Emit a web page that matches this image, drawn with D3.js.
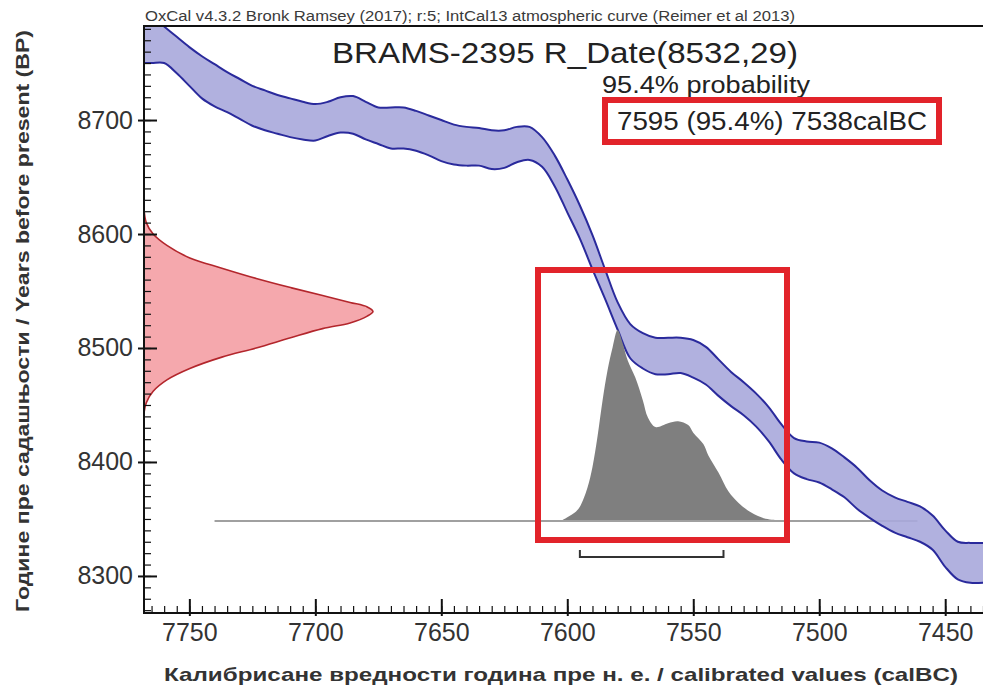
<!DOCTYPE html>
<html>
<head>
<meta charset="utf-8">
<script src="https://cdnjs.cloudflare.com/ajax/libs/d3/7.8.5/d3.min.js"></script>
<style>
  body { margin: 0; background: #fff; }
  text { font-family: "Liberation Sans", Arial, sans-serif; }
</style>
</head>
<body>
<svg width="983" height="692"></svg>
<script>
// calibration curve (IntCal13), upper and lower edge of the band, BP
var curveCal = [7770, 7765, 7760, 7755, 7750, 7745, 7740, 7735, 7730, 7725, 7720, 7715, 7710, 7705, 7700,
    7695, 7690, 7685, 7680, 7675, 7670, 7665, 7660, 7655, 7650, 7645, 7640, 7635, 7630, 7625, 7620,
    7615, 7610, 7605, 7600, 7595, 7590, 7585, 7580, 7575, 7570, 7565, 7560, 7555, 7550, 7545, 7540,
    7535, 7530, 7525, 7520, 7515, 7510, 7505, 7500, 7495, 7490, 7485, 7480, 7475, 7470, 7465, 7460,
    7455, 7450, 7445, 7440, 7435, 7430];
var curveUpper = [8800, 8791, 8782, 8773, 8764, 8756, 8749, 8742, 8736, 8730, 8726, 8722, 8719, 8716, 8714,
    8716, 8720, 8721, 8716, 8711, 8711, 8711, 8708, 8704, 8700, 8696, 8694, 8693, 8691, 8691, 8694,
    8694, 8685, 8669, 8648, 8625, 8599, 8569, 8540, 8521, 8513, 8509, 8509, 8509, 8507, 8501, 8490,
    8479, 8470, 8460, 8448, 8433, 8421, 8418, 8417, 8412, 8404, 8395, 8384, 8375, 8369, 8365, 8361,
    8353, 8340, 8330, 8329, 8329, 8330];
var curveLower = [8750, 8750, 8750, 8741, 8730, 8719, 8712, 8707, 8701, 8695, 8691, 8688, 8685, 8683, 8682,
    8686, 8689, 8688, 8683, 8679, 8675, 8675, 8673, 8669, 8664, 8661, 8660, 8660, 8657, 8658, 8663,
    8665, 8659, 8642, 8619, 8596, 8569, 8543, 8516, 8491, 8482, 8477, 8477, 8478, 8474, 8468, 8458,
    8449, 8441, 8431, 8418, 8402, 8390, 8385, 8382, 8376, 8369, 8359, 8351, 8344, 8338, 8334, 8330,
    8323, 8308, 8297, 8294, 8294, 8294];

// radiocarbon date R_Date(8532,29), relative likelihood
var likeBP = [8622, 8610, 8600, 8590, 8579, 8570, 8561, 8553, 8546, 8540, 8536, 8532,
    8528, 8522, 8517, 8509, 8500, 8492, 8482, 8472, 8462, 8452, 8443];
var likeP = [0, 0.01, 0.04, 0.10, 0.20, 0.34, 0.49, 0.64, 0.78, 0.90, 0.975, 1,
    0.975, 0.90, 0.78, 0.64, 0.49, 0.34, 0.20, 0.10, 0.04, 0.01, 0];

// calibrated distribution, calBC
var distCal = [7602, 7597, 7595, 7592, 7590, 7588, 7586, 7584, 7582, 7580, 7578, 7576, 7573, 7570,
    7568, 7565, 7560, 7556, 7552, 7550, 7546, 7544, 7540, 7536, 7532, 7527, 7522, 7517];
var distP = [0, 0.04, 0.07, 0.17, 0.28, 0.44, 0.63, 0.79, 0.91, 1, 0.93, 0.84, 0.75, 0.63,
    0.54, 0.49, 0.51, 0.52, 0.50, 0.46, 0.40, 0.34, 0.25, 0.15, 0.09, 0.04, 0.01, 0];

var range95 = [7595, 7538];
var calRange = [7740, 7461];
var xTicks = [7750, 7700, 7650, 7600, 7550, 7500, 7450];
var yTicks = [8300, 8400, 8500, 8600, 8700];

var svg = d3.select("svg");

const plotLeft = 144, plotTop = 26, plotBottom = 613, plotRight = 983;
const distBase = 8349;   // BP level of the distribution baseline
const distHeight = 190;  // px
const likeWidth = 229;   // px

var x = d3.scaleLinear().domain([7768, 7435]).range([plotLeft, plotRight]);
var y = d3.scaleLinear().domain([8267.5, 8782.5]).range([plotBottom, plotTop]);
var likeX = d3.scaleLinear().domain([0, 1]).range([plotLeft, plotLeft + likeWidth]);
var distY = d3.scaleLinear().domain([0, 1]).range([y(distBase), y(distBase) - distHeight]);
var smooth = d3.curveCatmullRom.alpha(0.5);

svg.append("rect").attr("width", 983).attr("height", 692).attr("fill", "#fff");

svg.append("clipPath").attr("id", "plot")
    .append("rect")
    .attr("x", plotLeft).attr("y", plotTop)
    .attr("width", plotRight - plotLeft).attr("height", plotBottom - plotTop);

var plot = svg.append("g").attr("clip-path", "url(#plot)");

var curve = curveCal.map(function (c, i) {
    return { cal: c, hi: curveUpper[i], lo: curveLower[i] };
});

// grey baseline of the calibrated distribution (under the band)
plot.append("line")
    .attr("x1", x(calRange[0])).attr("x2", x(calRange[1]))
    .attr("y1", distY(0) + 1).attr("y2", distY(0) + 1)
    .attr("stroke", "#a0a0a0")
    .attr("stroke-width", 2);

// calibration band
plot.append("path")
    .datum(curve)
    .attr("fill", "#a9a9db")
    .attr("fill-opacity", 0.9)
    .attr("d", d3.area()
        .x(function (d) { return x(d.cal); })
        .y0(function (d) { return y(d.lo); })
        .y1(function (d) { return y(d.hi); })
        .curve(smooth));

["hi", "lo"].forEach(function (k) {
    plot.append("path")
        .datum(curve)
        .attr("fill", "none")
        .attr("stroke", "#2a2a9c")
        .attr("stroke-width", 2)
        .attr("d", d3.line()
            .x(function (d) { return x(d.cal); })
            .y(function (d) { return y(d[k]); })
            .curve(smooth));
});

// likelihood of the radiocarbon date
var like = likeBP.map(function (b, i) { return { bp: b, p: likeP[i] }; });
plot.append("path")
    .datum(like)
    .attr("fill", "#f5a8ad")
    .attr("d", d3.area()
        .y(function (d) { return y(d.bp); })
        .x0(plotLeft)
        .x1(function (d) { return likeX(d.p); })
        .curve(smooth));
plot.append("path")
    .datum(like)
    .attr("fill", "none")
    .attr("stroke", "#b3262c")
    .attr("stroke-width", 1.6)
    .attr("d", d3.line()
        .y(function (d) { return y(d.bp); })
        .x(function (d) { return likeX(d.p); })
        .curve(smooth));

// calibrated distribution
var dist = distCal.map(function (c, i) { return { cal: c, p: distP[i] }; });
plot.append("path")
    .datum(dist)
    .attr("fill", "#7f7f7f")
    .attr("d", d3.area()
        .x(function (d) { return x(d.cal); })
        .y0(distY(0))
        .y1(function (d) { return distY(d.p); })
        .curve(smooth));

// 95.4% range bracket
svg.append("path")
    .attr("fill", "none")
    .attr("stroke", "#333")
    .attr("stroke-width", 2)
    .attr("d", "M" + x(range95[0]) + "," + (distY(0) + 30) +
        "V" + (distY(0) + 37) + "H" + x(range95[1]) + "V" + (distY(0) + 30));

// axes
var tickFont = function (g) {
    g.selectAll("text")
        .style("font-family", "Liberation Sans, Arial, sans-serif")
        .style("font-size", "25px")
        .attr("fill", "#333");
    g.select(".domain").remove();
    g.selectAll("line").attr("stroke", "#111").attr("stroke-width", 2);
};

svg.append("g")
    .attr("transform", "translate(" + plotLeft + ",0)")
    .call(d3.axisLeft(y).tickValues(yTicks).tickSize(6).tickPadding(5).tickFormat(d3.format("d")))
    .call(tickFont);
svg.append("g")
    .attr("transform", "translate(" + plotLeft + ",0)")
    .call(d3.axisLeft(y).tickValues(yTicks).tickSize(-13).tickFormat(""))
    .call(tickFont);
svg.append("g")
    .attr("transform", "translate(" + plotLeft + ",0)")
    .call(d3.axisLeft(y).ticks(52).tickSize(-7).tickFormat(""))
    .call(tickFont)
    .selectAll("line").attr("stroke-width", 1.2);

svg.append("g")
    .attr("transform", "translate(0," + plotBottom + ")")
    .call(d3.axisBottom(x).tickValues(xTicks).tickSize(3).tickPadding(7).tickFormat(d3.format("d")))
    .call(tickFont);
svg.append("g")
    .attr("transform", "translate(0," + plotBottom + ")")
    .call(d3.axisBottom(x).tickValues(xTicks).tickSize(-14).tickFormat(""))
    .call(tickFont);
svg.append("g")
    .attr("transform", "translate(0," + plotBottom + ")")
    .call(d3.axisBottom(x).ticks(66).tickSize(-7).tickFormat(""))
    .call(tickFont)
    .selectAll("line").attr("stroke-width", 1.2);

// frame
svg.append("path")
    .attr("fill", "none")
    .attr("stroke", "#111")
    .attr("stroke-width", 2)
    .attr("d", "M" + plotRight + "," + plotTop + "H" + plotLeft + "V" + plotBottom + "H" + plotRight);

// texts
svg.append("text")
    .attr("x", 145).attr("y", 21)
    .attr("font-size", 14)
    .attr("fill", "#3a3a3a")
    .attr("textLength", 650)
    .attr("lengthAdjust", "spacingAndGlyphs")
    .text("OxCal v4.3.2 Bronk Ramsey (2017); r:5; IntCal13 atmospheric curve (Reimer et al 2013)");

svg.append("text")
    .attr("x", 332).attr("y", 63)
    .attr("font-size", 29)
    .attr("fill", "#222")
    .attr("textLength", 466)
    .attr("lengthAdjust", "spacingAndGlyphs")
    .text("BRAMS-2395 R_Date(8532,29)");

svg.append("text")
    .attr("x", 602).attr("y", 93)
    .attr("font-size", 23)
    .attr("fill", "#222")
    .attr("textLength", 208)
    .attr("lengthAdjust", "spacingAndGlyphs")
    .text("95.4% probability");

svg.append("text")
    .attr("x", 617).attr("y", 130)
    .attr("font-size", 26)
    .attr("fill", "#222")
    .attr("textLength", 310)
    .attr("lengthAdjust", "spacingAndGlyphs")
    .text(range95[0] + " (95.4%) " + range95[1] + "calBC");

// red highlight boxes
svg.append("rect")
    .attr("x", 605).attr("y", 100)
    .attr("width", 334).attr("height", 42)
    .attr("fill", "none")
    .attr("stroke", "#e2232a")
    .attr("stroke-width", 6);

svg.append("rect")
    .attr("x", 538).attr("y", 270)
    .attr("width", 249).attr("height", 270)
    .attr("fill", "none")
    .attr("stroke", "#e2232a")
    .attr("stroke-width", 6);

// axis titles
svg.append("text")
    .attr("transform", "translate(29,321) rotate(-90)")
    .attr("text-anchor", "middle")
    .attr("font-size", 18)
    .attr("font-weight", "bold")
    .attr("fill", "#333")
    .attr("textLength", 582)
    .attr("lengthAdjust", "spacingAndGlyphs")
    .text("Године пре садашњости / Years before present (BP)");

svg.append("text")
    .attr("x", 561).attr("y", 681)
    .attr("text-anchor", "middle")
    .attr("font-size", 19)
    .attr("font-weight", "bold")
    .attr("fill", "#333")
    .attr("textLength", 794)
    .attr("lengthAdjust", "spacingAndGlyphs")
    .text("Калибрисане вредности година пре н. е. / calibrated values (calBC)");
</script>
</body>
</html>
